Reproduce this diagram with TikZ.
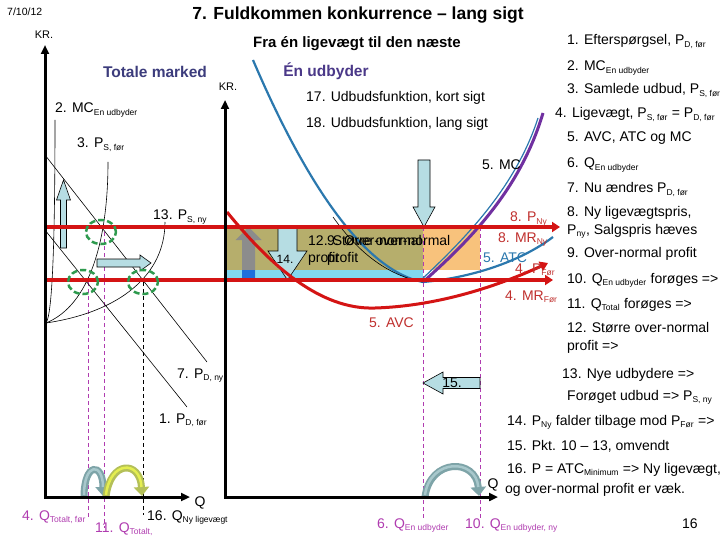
\documentclass[tikz,border=0pt]{standalone}
\usepackage{fontspec}
\setmainfont{Liberation Sans}
\usetikzlibrary{arrows.meta,positioning}

\newcommand{\sbs}[1]{\textsubscript{\fontsize{8.5}{9}\selectfont #1}}

\definecolor{kred}{HTML}{D41414}
\definecolor{kredtxt}{HTML}{C0302E}
\definecolor{atcblue}{HTML}{2B78AE}
\definecolor{mcpurple}{HTML}{7030A0}
\definecolor{qmag}{HTML}{B03CB0}
\definecolor{circgreen}{HTML}{2E9A4E}
\definecolor{arrowfill}{HTML}{B6DDE3}
\definecolor{olivefill}{HTML}{B6AE6C}
\definecolor{stripblue}{HTML}{82D8F0}
\definecolor{profitorange}{HTML}{F8C27C}
\definecolor{headblue}{HTML}{3C3C7C}
\definecolor{firmpurple}{HTML}{4A3888}
\definecolor{tealgrey}{HTML}{7EA4A8}
\definecolor{tealhi}{HTML}{A8C8CC}
\definecolor{yellowgrn}{HTML}{B4C058}
\definecolor{yellowhi}{HTML}{E4EE50}
\definecolor{baseblue}{HTML}{1E6FDC}

\begin{document}
\begin{tikzpicture}[
    x=1pt, y=-1pt,
    font=\fontsize{14}{17}\selectfont,
    axis/.style={line width=3pt, {Triangle[length=9pt,width=8pt]}-{Triangle[length=9pt,width=8pt]}},
    lab/.style={anchor=base west, inner sep=0pt},
    redlab/.style={lab, text=kredtxt},
    qlab/.style={lab, text=qmag},
    thincurve/.style={black, line width=0.6pt},
    redline/.style={kred, line width=3.5pt, -{Triangle[length=8pt,width=10pt]}},
    avc/.style={kred, line width=3pt, -{Triangle[length=8pt,width=10pt]}},
    atc/.style={atcblue, line width=2.2pt},
    mc/.style={mcpurple, line width=3pt},
    qline/.style={qmag, line width=0.9pt, dash pattern=on 4pt off 3pt},
    eqcircle/.style={circgreen, line width=2.5pt, dash pattern=on 6pt off 3pt},
    blockarrow/.style={draw=black, line width=0.6pt, fill=arrowfill, line join=miter},
    bendarrow/.style={line width=7pt, -{Triangle[length=9pt,width=15pt]}},
    heading/.style={inner sep=0pt, font=\bfseries\fontsize{15.5}{18}\selectfont}
]
    % canvas
    \fill[white] (0,0) rectangle (720,540);
    \useasboundingbox (0,0) rectangle (720,540);

    % headings
    \node[lab, font=\fontsize{10.5}{12}\selectfont] (date) at (7,16) {7/10/12};
    \node[inner sep=0pt, font=\bfseries\fontsize{17.5}{20}\selectfont] (title) at (358,15) {7. Fuldkommen konkurrence – lang sigt};
    \node[inner sep=0pt, font=\bfseries\fontsize{15}{18}\selectfont] (subtitle) at (357,44) {Fra én ligevægt til den næste};
    \node[heading, text=headblue] (market) at (155,72) {Totale marked};
    \node[heading, text=firmpurple] (firm) at (326,71) {Én udbyder};

    % profit areas
    \fill[olivefill] (225,227) rectangle (423,270);
    \fill[stripblue] (225,270) rectangle (423,280);
    \fill[profitorange] (423,227) rectangle (480,270);

    % quantity markers
    \draw[qline] (88,282) -- (88,518);
    \draw[qline] (104,232) -- (104,528);
    \draw[black, line width=0.8pt, dash pattern=on 4pt off 3pt] (143,282) -- (143,515);
    \draw[qline] (423,227) -- (423,518);
    \draw[qline] (480,227) -- (480,518);

    % (a) Totale marked
    \coordinate (sbase) at (46,323);
    \draw[thincurve] (sbase) .. controls (52,315) and (55,250) .. (55,120);
    \draw[thincurve] (sbase) .. controls (90,305) and (108,240) .. (108,162);
    \draw[thincurve] (sbase) .. controls (120,312) and (165,275) .. (165,222);
    \draw[thincurve] (45,230) -- (187,407);
    \draw[thincurve] (45,155) -- (207,362);

    \draw[blockarrow] (60.5,248) -- (60.5,200) -- (56.5,200) -- (63.5,180) -- (70.5,200) -- (66.5,200) -- (66.5,248) -- cycle;
    \draw[blockarrow] (97,259) -- (140,259) -- (140,255) -- (151,263) -- (140,271) -- (140,267) -- (97,267) -- cycle;

    \draw[bendarrow, tealgrey] (84,497) .. controls (84,462) and (103,462) .. (103,496);
    \draw[tealhi, line width=2.5pt, shorten >=9pt] (84,495) .. controls (84,462) and (103,462) .. (103,496);
    \draw[bendarrow, yellowgrn] (106,497) .. controls (110,460) and (140,460) .. (142,496);
    \draw[yellowhi, line width=2.5pt, shorten >=9pt] (106,495) .. controls (110,460) and (140,460) .. (142,496);

    % (b) Én udbyder
    \draw[atc] (253,60) .. controls (300,170) and (360,270) .. (423,282) .. controls (470,278) and (520,262) .. (553,237);
    \draw[thincurve] (333,217) .. controls (360,255) and (390,276) .. (423,282);
    \draw[atcblue, line width=1.2pt] (421,280) .. controls (467,237) and (516,186) .. (538,118);
    \draw[mc] (423,282) .. controls (470,240) and (520,190) .. (543,113);

    \fill[gray!90] (242,278) -- (242,240) -- (235.5,240) -- (248.5,227) -- (261.5,240) -- (255,240) -- (255,278) -- cycle;
    \fill[baseblue] (242,270) rectangle (255,278);
    \draw[blockarrow] (278,227) -- (297,227) -- (297,251) -- (307,251) -- (287.5,280) -- (268,251) -- (278,251) -- cycle;
    \draw[blockarrow] (418,160) -- (430,160) -- (430,207) -- (435,207) -- (424,227) -- (413,207) -- (418,207) -- cycle;
    \draw[blockarrow] (480,377.5) -- (443,377.5) -- (443,372) -- (423,383) -- (443,394) -- (443,388.5) -- (480,388.5) -- cycle;

    \draw[bendarrow, tealgrey] (425,497) .. controls (430,458) and (476,458) .. (479,496);
    \draw[tealhi, line width=2.5pt, shorten >=9pt] (425,495) .. controls (430,458) and (476,458) .. (479,496);

    % price lines
    \draw[redline] (45,227) -- (560,227);
    \draw[redline] (45,280) -- (553,280);
    \draw[avc] (227,212) .. controls (270,265) and (320,310) .. (375,308) .. controls (440,306) and (500,285) .. (548,263);

    % equilibria
    \draw[eqcircle] (101,232) ellipse [x radius=15pt, y radius=12pt];
    \draw[eqcircle] (83,282) ellipse [x radius=15pt, y radius=12pt];
    \draw[eqcircle] (143,282) ellipse [x radius=15pt, y radius=12pt];

    % axes
    \draw[axis] (45,45) -- (45,497) -- (190,497);
    \draw[axis] (225,100) -- (225,497) -- (498,497);
    \node[inner sep=0pt, font=\fontsize{11}{13}\selectfont] (krL) at (44,35) {KR.};
    \node[inner sep=0pt, font=\fontsize{11}{13}\selectfont] (krR) at (228,87) {KR.};
    \node[inner sep=0pt] (qL) at (200,503) {Q};
    \node[inner sep=0pt] (qR) at (493,485) {Q};

    % curve labels
    \node[lab] (mcOneLab) at (55,113) {2. MC\sbs{En udbyder}};
    \node[lab] (psOldLab) at (77,148) {3. P\sbs{S, før}};
    \node[lab] (psNewLab) at (153,220) {13. P\sbs{S, ny}};
    \node[lab] (pdNewLab) at (177,378) {7. P\sbs{D, ny}};
    \node[lab] (pdOldLab) at (159,423) {1. P\sbs{D, før}};
    \node[qlab] (qTotOld) at (22,520) {4. Q\sbs{Totalt, før}};
    \node[qlab] (qTotNew) at (95,532) {11. Q\sbs{Totalt,}};
    \node[lab] (qEq) at (147,520) {16. Q\sbs{Ny ligevægt}};

    \node[lab] (mcLab) at (482,170) {5. MC};
    \node[lab] (shortRun) at (306,102) {17. Udbudsfunktion, kort sigt};
    \node[lab] (longRun) at (306,128) {18. Udbudsfunktion, lang sigt};
    \node[redlab] (pNy) at (510,222) {8. P\sbs{Ny}};
    \node[redlab] (mrNy) at (498,242) {8. MR\sbs{Ny}};
    \node[lab, text=atcblue] (atcLab) at (483,262) {5. ATC};
    \node[redlab] (pFor) at (515,273) {4. P\sbs{Før}};
    \node[redlab] (mrFor) at (505,300) {4. MR\sbs{Før}};
    \node[redlab] (avcLab) at (369,327) {5. AVC};
    \node[lab] (bigProfit) at (308,245) {12. Større over-normal};
    \node[lab] (bigProfitB) at (308,262) {profit};
    \node[lab] (profit) at (327,245) {9. Over-normal};
    \node[lab] (profitB) at (327,262) {profit};
    \node[inner sep=0pt, font=\fontsize{12}{14}\selectfont] (fourteen) at (285,259) {14.};
    \node[inner sep=0pt] (fifteen) at (452,383) {15.};
    \node[qlab] (qOne) at (377,528) {6. Q\sbs{En udbyder}};
    \node[qlab] (qOneNew) at (465,528) {10. Q\sbs{En udbyder, ny}};

    % key
    \node[lab] (k1) at (567,45) {1. Efterspørgsel, P\sbs{D, før}};
    \node[lab] (k2) at (567,71) {2. MC\sbs{En udbyder}};
    \node[lab] (k3) at (567,94) {3. Samlede udbud, P\sbs{S, før}};
    \node[lab] (k4) at (555,118) {4. Ligevægt, P\sbs{S, før} = P\sbs{D, før}};
    \node[lab] (k5) at (567,142) {5. AVC, ATC og MC};
    \node[lab] (k6) at (567,168) {6. Q\sbs{En udbyder}};
    \node[lab] (k7) at (567,193) {7. Nu ændres P\sbs{D, før}};
    \node[lab] (k8) at (567,217) {8. Ny ligevægtspris,};
    \node[lab] (k8b) at (567,234) {P\sbs{ny}, Salgspris hæves};
    \node[lab] (k9) at (567,258) {9. Over-normal profit};
    \node[lab] (k10) at (567,283) {10. Q\sbs{En udbyder} forøges =>};
    \node[lab] (k11) at (567,308) {11. Q\sbs{Total} forøges =>};
    \node[lab] (k12) at (567,332) {12. Større over-normal};
    \node[lab] (k12b) at (567,350) {profit =>};
    \node[lab] (k13) at (562,378) {13. Nye udbydere =>};
    \node[lab] (k13b) at (567,400) {Forøget udbud => P\sbs{S, ny}};
    \node[lab] (k14) at (507,425) {14. P\sbs{Ny} falder tilbage mod P\sbs{Før} =>};
    \node[lab] (k15) at (507,450) {15. Pkt. 10 – 13, omvendt};
    \node[lab] (k16) at (507,473) {16. P = ATC\sbs{Minimum} => Ny ligevægt,};
    \node[lab] (k16b) at (505,493) {og over-normal profit er væk.};
    \node[lab] (page) at (682,528) {16};
\end{tikzpicture}
\end{document}
